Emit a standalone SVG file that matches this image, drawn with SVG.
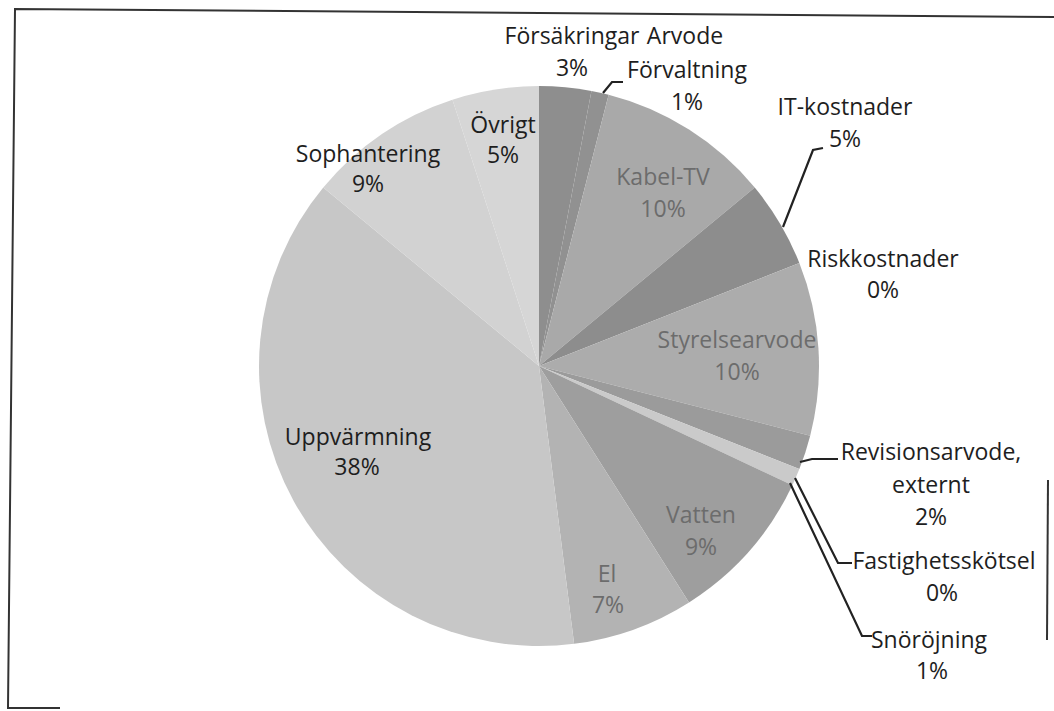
<svg xmlns="http://www.w3.org/2000/svg" width="1054" height="711" viewBox="0 0 1054 711">
<style>
text{font-family:"Open Sans","Noto Sans","Liberation Sans",sans-serif;font-size:23px;text-anchor:middle}
.dk{fill:#1e1e1e}
.gr{fill:#6c6c6c}
.ld{fill:none;stroke:#222;stroke-width:2.2;stroke-linejoin:miter}
.bd{fill:none;stroke:#333;stroke-width:2}
</style>
<rect width="1054" height="711" fill="#ffffff"/>
<g id="frame">
<polyline class="bd" points="1054,17 15,9 8,708 60,708"/>
<line class="bd" x1="1048" y1="480" x2="1047" y2="640"/>
</g>
<g id="slices">
<g id="forsakringar"><path d="M539,366 L539,86 A280,280 0 0 1 591.47,90.96 Z" fill="#8e8e8e"/></g>
<g id="forvaltning"><path d="M539,366 L591.47,90.96 A280,280 0 0 1 608.63,94.80 Z" fill="#919191"/></g>
<g id="kabeltv"><path d="M539,366 L608.63,94.80 A280,280 0 0 1 754.74,187.52 Z" fill="#a9a9a9"/></g>
<g id="itkostnader"><path d="M539,366 L754.74,187.52 A280,280 0 0 1 799.34,262.93 Z" fill="#8d8d8d"/></g>
<g id="styrelsearvode"><path d="M539,366 L799.34,262.93 A280,280 0 0 1 810.20,435.63 Z" fill="#acacac"/></g>
<g id="revisionsarvode"><path d="M539,366 L810.20,435.63 A280,280 0 0 1 799.34,469.07 Z" fill="#9b9b9b"/></g>
<g id="snorojning"><path d="M539,366 L799.34,469.07 A280,280 0 0 1 792.35,485.22 Z" fill="#cacaca"/></g>
<g id="vatten"><path d="M539,366 L792.35,485.22 A280,280 0 0 1 689.03,602.41 Z" fill="#9e9e9e"/></g>
<g id="el"><path d="M539,366 L689.03,602.41 A280,280 0 0 1 574.09,643.79 Z" fill="#b3b3b3"/></g>
<g id="uppvarmning"><path d="M539,366 L574.09,643.79 A280,280 0 0 1 323.26,187.52 Z" fill="#c7c7c7"/></g>
<g id="sophantering"><path d="M539,366 L323.26,187.52 A280,280 0 0 1 452.47,99.70 Z" fill="#d2d2d2"/></g>
<g id="ovrigt"><path d="M539,366 L452.47,99.70 A280,280 0 0 1 539,86 Z" fill="#d6d6d6"/></g>
</g>
<g id="connectors">
<polyline class="ld" points="603,93 612,82 623,82"/>
<polyline class="ld" points="783,227 813,150 823,148"/>
<polyline class="ld" points="800,462 812,459 838,459"/>
<polyline class="ld" points="795,478 838,563 852,563"/>
<polyline class="ld" points="790,483 862,636 872,636"/>
</g>
<g id="labels">
<g id="lbl-forsakringar"><text class="dk" x="572" y="44">Försäkringar</text><text class="dk" x="572" y="76">3%</text></g>
<g id="lbl-forvaltning"><text class="dk" x="685" y="44">Arvode</text><text class="dk" x="687" y="78">Förvaltning</text><text class="dk" x="687" y="110">1%</text></g>
<g id="lbl-it"><text class="dk" x="845" y="115">IT-kostnader</text><text class="dk" x="845" y="147">5%</text></g>
<g id="lbl-kabel"><text class="gr" x="663" y="185">Kabel-TV</text><text class="gr" x="663" y="217">10%</text></g>
<g id="lbl-risk"><text class="dk" x="883" y="267">Riskkostnader</text><text class="dk" x="883" y="298">0%</text></g>
<g id="lbl-styrelse"><text class="gr" x="737" y="348">Styrelsearvode</text><text class="gr" x="737" y="380">10%</text></g>
<g id="lbl-revision"><text class="dk" x="931" y="460">Revisionsarvode,</text><text class="dk" x="931" y="493">externt</text><text class="dk" x="931" y="525">2%</text></g>
<g id="lbl-fastighet"><text class="dk" x="944" y="569">Fastighetsskötsel</text><text class="dk" x="942" y="601">0%</text></g>
<g id="lbl-sno"><text class="dk" x="929" y="648">Snöröjning</text><text class="dk" x="932" y="679">1%</text></g>
<g id="lbl-vatten"><text class="gr" x="701" y="523">Vatten</text><text class="gr" x="701" y="555">9%</text></g>
<g id="lbl-el"><text class="gr" x="607" y="582">El</text><text class="gr" x="608" y="613">7%</text></g>
<g id="lbl-uppv"><text class="dk" x="358" y="445">Uppvärmning</text><text class="dk" x="357" y="475">38%</text></g>
<g id="lbl-soph"><text class="dk" x="368" y="162">Sophantering</text><text class="dk" x="368" y="192">9%</text></g>
<g id="lbl-ovrigt"><text class="dk" x="503" y="133">Övrigt</text><text class="dk" x="503" y="163">5%</text></g>
</g>
</svg>
